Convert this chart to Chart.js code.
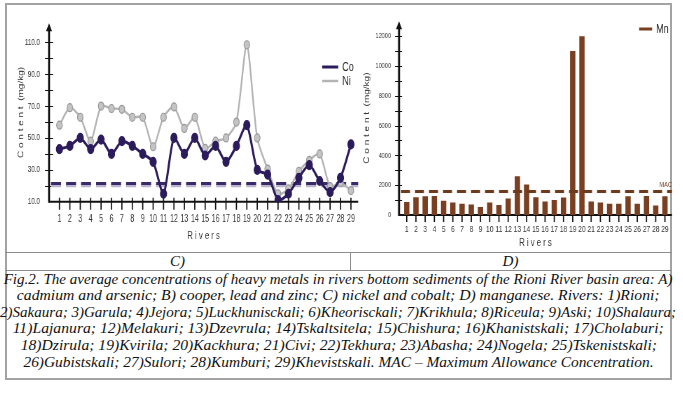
<!DOCTYPE html>
<html>
<head>
<meta charset="utf-8">
<script src="https://cdn.jsdelivr.net/npm/chart.js@4.4.1/dist/chart.umd.min.js"></script>
<style>
  body { margin: 0; background: #fff; width: 683px; height: 394px; overflow: hidden; position: relative; }
  .frame { position: absolute; left: 5px; top: 3px; width: 667px; height: 377px; border: 2px solid #a3a3a3; box-sizing: border-box; }
  .hline { position: absolute; left: 5px; width: 667px; height: 0; border-top: 1px solid #8c8c8c; }
  .vline { position: absolute; width: 0; border-left: 1px solid #8c8c8c; }
  canvas { position: absolute; }
  .lbl, .cap { position: absolute; font-family: 'Liberation Serif', 'Times New Roman', serif; font-style: italic; font-size: 15px; color: #111; white-space: nowrap; text-align: center; }
  .lbl { top: 252px; height: 18px; line-height: 18px; }
  .cap { left: 0; width: 677px; height: 17px; line-height: 17px; }
  .cap span { display: inline-block; transform-origin: center; }
</style>
</head>
<body>
<div class="frame"></div>
<div class="hline" style="top:252px"></div>
<div class="hline" style="top:270px"></div>
<div class="vline" style="left:350px;top:252px;height:18px"></div>

<!-- canvases are drawn wider and squeezed sideways, like the narrow type of the original -->
<canvas id="chart-c" width="514" height="247" style="left:5px;top:5px;width:360px;height:247px"></canvas>
<canvas id="chart-d" width="457" height="247" style="left:355px;top:5px;width:320px;height:247px"></canvas>

<div class="lbl" style="left:5px;width:345px">C)</div>
<div class="lbl" style="left:350px;width:321px">D)</div>

<div id="caption"></div>

<script>
/* ---- Data ---- */
const rivers   = ['1','2','3','4','5','6','7','8','9','10','11','12','13','14','15',
                  '16','17','18','19','20','21','22','23','24','25','26','27','28','29'];

const coValues = [43, 45, 50, 43, 49, 40, 48, 45, 40, 35, 15, 50, 40, 50, 39,
                  45, 35, 45, 58, 30, 27, 11, 15, 25, 33, 23, 16, 25, 46];
const niValues = [58, 69, 63, 48, 70, 68.5, 68, 63, 63, 44.5, 63, 69.5, 56, 63, 43.5,
                  48, 50, 60, 108.5, 50, 30.5, 15, 18, 29, 36, 40, 19.5, 22, 17];
const coMac    = 21.5;
const niMac    = 20;
const cYLabels = ['10.0', '30.0', '50.0', '70.0', '90.0', '110.0'];

const mnValues = [880, 1190, 1250, 1270, 950, 840, 760, 710, 540, 840, 670, 1100, 2600, 2050, 1190,
                  910, 1000, 1170, 11000, 12000, 910, 840, 760, 760, 1250, 760, 1270, 630, 1250];
const mnMac    = 1580;
const dYLabels = ['0', '2000', '4000', '6000', '8000', '10000', '12000'];

const captionLines = [
  'Fig.2. The average concentrations of heavy metals in rivers bottom sediments of the Rioni River basin area: A)',
  'cadmium and arsenic; B) cooper, lead and zinc; C) nickel and cobalt; D) manganese. Rivers: 1)Rioni;',
  '2)Sakaura; 3)Garula; 4)Jejora; 5)Luckhunisckali; 6)Kheorisckali; 7)Krikhula; 8)Riceula; 9)Aski; 10)Shalaura;',
  '11)Lajanura; 12)Melakuri; 13)Dzevrula; 14)Tskaltsitela; 15)Chishura; 16)Khanistskali; 17)Cholaburi;',
  '18)Dzirula; 19)Kvirila; 20)Kackhura; 21)Civi; 22)Tekhura; 23)Abasha; 24)Nogela; 25)Tskenistskali;',
  '26)Gubistskali; 27)Sulori; 28)Kumburi; 29)Khevistskali. MAC – Maximum Allowance Concentration.'
];

/* ---- Styles ---- */
const K        = 1 / 0.7;          // horizontal squeeze of both canvases
const FONT     = "'Liberation Sans', Arial, sans-serif";
const CO_COLOR = '#2d1c5c';
const NI_COLOR = '#b4b4b4';
const MN_COLOR = '#7a3e20';
const TEXT     = '#333';

const toPoints = vals => vals.map((v, i) => ({ x: i + 1, y: v }));

/* ---- Plugins: axes with arrow, MAC lines, small legend ---- */
const axesPlugin = {
  id: 'axes',
  beforeDatasetsDraw(chart, args, o) {
    const { ctx, chartArea: a, scales: { x, y } } = chart;
    ctx.save();
    ctx.strokeStyle = '#111';
    ctx.fillStyle = '#111';
    ctx.lineWidth = 2;
    ctx.beginPath();
    ctx.moveTo(a.left, a.bottom); ctx.lineTo(a.right, a.bottom);
    ctx.stroke();
    ctx.lineWidth = 2 * K;
    ctx.beginPath();
    ctx.moveTo(a.left, a.bottom + 1); ctx.lineTo(a.left, a.top + 6);
    ctx.stroke();
    ctx.beginPath();
    ctx.moveTo(a.left, a.top); ctx.lineTo(a.left - 3 * K, a.top + 8); ctx.lineTo(a.left + 3 * K, a.top + 8);
    ctx.closePath(); ctx.fill();

    ctx.lineWidth = 1;
    ctx.beginPath();
    y.ticks.forEach(t => {
      if (t.value === y.min) return;
      const py = Math.round(y.getPixelForValue(t.value)) + 0.5;
      ctx.moveTo(a.left - o.yTick[0] * K, py); ctx.lineTo(a.left + o.yTick[1] * K, py);
    });
    ctx.stroke();
    ctx.lineWidth = 1.2 * K;
    ctx.beginPath();
    x.ticks.forEach(t => {
      const px = x.getPixelForValue(t.value);
      ctx.moveTo(px, a.bottom - o.xTick[0]); ctx.lineTo(px, a.bottom + o.xTick[1]);
    });
    ctx.stroke();
    ctx.restore();
  }
};

function drawMac(chart, o) {
  const { ctx, chartArea: a, scales: { y } } = chart;
  ctx.save();
  o.lines.forEach(l => {
    const py = y.getPixelForValue(l.value);
    ctx.strokeStyle = l.color;
    ctx.lineWidth = l.width;
    ctx.setLineDash(o.dash.map(d => d * K));
    ctx.beginPath();
    ctx.moveTo(a.left + 2 * K, py); ctx.lineTo(a.right, py);
    ctx.stroke();
    if (l.label) {
      ctx.setLineDash([]);
      ctx.fillStyle = l.color;
      ctx.font = '8px ' + FONT;
      ctx.textAlign = 'right';
      ctx.textBaseline = 'bottom';
      ctx.fillText(l.label, a.right, py - 3);
    }
  });
  ctx.restore();
}

const macPlugin = {
  id: 'mac',
  beforeDatasetsDraw(chart, args, o) { if (!o.front) drawMac(chart, o); },
  afterDatasetsDraw(chart, args, o)  { if (o.front)  drawMac(chart, o); }
};

const legendPlugin = {
  id: 'miniLegend',
  afterDraw(chart, args, o) {
    const { ctx } = chart;
    ctx.save();
    ctx.font = '13px ' + FONT;
    ctx.textBaseline = 'middle';
    chart.data.datasets.forEach((ds, i) => {
      const ly = o.y + i * o.gap;
      ctx.strokeStyle = ds.borderColor || ds.backgroundColor;
      ctx.lineWidth = o.lineWidths[i];
      ctx.beginPath();
      ctx.moveTo(o.x * K, ly); ctx.lineTo((o.x + o.len) * K, ly);
      ctx.stroke();
      ctx.fillStyle = '#222';
      ctx.fillText(ds.label, (o.x + o.len + 4) * K, ly);
    });
    ctx.restore();
  }
};

Chart.register(axesPlugin, macPlugin, legendPlugin);

/* ---- Chart C: nickel and cobalt ---- */
new Chart(document.getElementById('chart-c'), {
  type: 'line',
  data: {
    datasets: [
      {
        label: 'Co',
        data: toPoints(coValues),
        borderColor: CO_COLOR,
        backgroundColor: CO_COLOR,
        borderWidth: 3,
        tension: 0.25,
        pointRadius: 3.6,
        pointBackgroundColor: CO_COLOR,
        pointBorderColor: CO_COLOR,
        order: 1
      },
      {
        label: 'Ni',
        data: toPoints(niValues),
        borderColor: NI_COLOR,
        backgroundColor: NI_COLOR,
        borderWidth: 2.4,
        tension: 0.25,
        pointRadius: 4,
        pointBackgroundColor: '#c4c4c4',
        pointBorderColor: '#989898',
        pointBorderWidth: 1.2,
        order: 2
      }
    ]
  },
  options: {
    responsive: false,
    animation: false,
    layout: { padding: { left: 0, top: 10, right: 514 - 353 * K, bottom: 0 } },
    scales: {
      x: {
        type: 'linear',
        min: 0,
        max: 29.7,
        afterBuildTicks: s => { s.ticks = rivers.map((r, i) => ({ value: i + 1 })); },
        afterFit: s => { s.height = 50.3; },
        grid: { display: false, drawTicks: false },
        border: { display: false },
        ticks: {
          autoSkip: false, maxRotation: 0, padding: 12,
          color: TEXT, font: { family: FONT, size: 10 },
          callback: v => rivers[v - 1]
        },
        title: {
          display: true, text: 'R i v e r s', color: TEXT,
          font: { family: FONT, size: 11 }, padding: { top: 0, bottom: 9 }
        }
      },
      y: {
        min: 10,
        max: 122,
        afterBuildTicks: s => { s.ticks = s.ticks.filter(t => t.value <= 110); },
        afterFit: s => { s.width = 44 * K; },
        grid: { display: false, drawTicks: false },
        border: { display: false },
        ticks: {
          stepSize: 10, padding: 9 * K,
          color: TEXT, font: { family: FONT, size: 9 },
          callback: v => cYLabels.includes(v.toFixed(1)) ? v.toFixed(1) : ''
        },
        title: {
          display: true, text: 'C o n t e n t  (mg/kg)', color: TEXT,
          font: { family: FONT, size: 10 }, padding: { top: 16 * K - 6, bottom: 0 }
        }
      }
    },
    plugins: {
      legend: { display: false },
      tooltip: { enabled: false },
      axes: { yTick: [4, 4], xTick: [4, 8] },
      mac: {
        front: false,
        dash: [10, 5],
        lines: [
          { value: niMac, color: '#b9b4cc', width: 3 },
          { value: coMac, color: '#3a2a6a', width: 3 }
        ]
      },
      miniLegend: { x: 317, y: 62, gap: 14, len: 16, lineWidths: [3, 2.5] }
    }
  }
});

/* ---- Chart D: manganese ---- */
new Chart(document.getElementById('chart-d'), {
  type: 'bar',
  data: {
    datasets: [{
      label: 'Mn',
      data: toPoints(mnValues),
      backgroundColor: MN_COLOR,
      borderColor: MN_COLOR,
      barPercentage: 0.72,
      categoryPercentage: 0.8
    }]
  },
  options: {
    responsive: false,
    animation: false,
    layout: { padding: { left: 0, top: 10, right: 457 - 317 * K, bottom: 0 } },
    scales: {
      x: {
        type: 'linear',
        min: 0.165,
        max: 29.76,
        offset: false,
        afterBuildTicks: s => { s.ticks = rivers.map((r, i) => ({ value: i + 1 })); },
        afterFit: s => { s.height = 37; },
        grid: { display: false, drawTicks: false },
        border: { display: false },
        ticks: {
          autoSkip: false, maxRotation: 0, padding: 9,
          color: TEXT, font: { family: FONT, size: 9.5 },
          callback: v => rivers[v - 1]
        },
        title: {
          display: true, text: 'R i v e r s', color: TEXT,
          font: { family: FONT, size: 11 }, padding: { top: 0, bottom: 2.5 }
        }
      },
      y: {
        min: 0,
        max: 13000,
        afterBuildTicks: s => { s.ticks = s.ticks.filter(t => t.value <= 12000); },
        afterFit: s => { s.width = 44 * K; },
        grid: { display: false, drawTicks: false },
        border: { display: false },
        ticks: {
          stepSize: 1000, padding: 8 * K,
          color: TEXT, font: { family: FONT, size: 8 },
          callback: v => dYLabels.includes(String(v)) ? String(v) : ''
        },
        title: {
          display: true, text: 'C o n t e n t  (mg/kg)', color: TEXT,
          font: { family: FONT, size: 10 }, padding: { top: 12.3 * K - 6, bottom: 0 }
        }
      }
    },
    plugins: {
      legend: { display: false },
      tooltip: { enabled: false },
      axes: { yTick: [4, 3], xTick: [0, 7] },
      mac: {
        front: true,
        dash: [9, 5],
        lines: [{ value: mnMac, color: '#6e3a1e', width: 3, label: 'MAC' }]
      },
      miniLegend: { x: 284, y: 24, gap: 14, len: 13, lineWidths: [3] }
    }
  }
});

/* ---- Caption: one centred line each, stretched to the figure's width ---- */
const capTargets = [669, 643, 676, 651, 636, 630];
const caption = document.getElementById('caption');
captionLines.forEach((text, i) => {
  const div = document.createElement('div');
  div.className = 'cap';
  div.style.top = (270.5 + i * 16.6) + 'px';
  const span = document.createElement('span');
  span.textContent = text;
  div.appendChild(span);
  caption.appendChild(div);
  const w = span.getBoundingClientRect().width;
  if (w > 0) span.style.transform = `scaleX(${(capTargets[i] / w).toFixed(3)})`;
});
</script>
</body>
</html>
